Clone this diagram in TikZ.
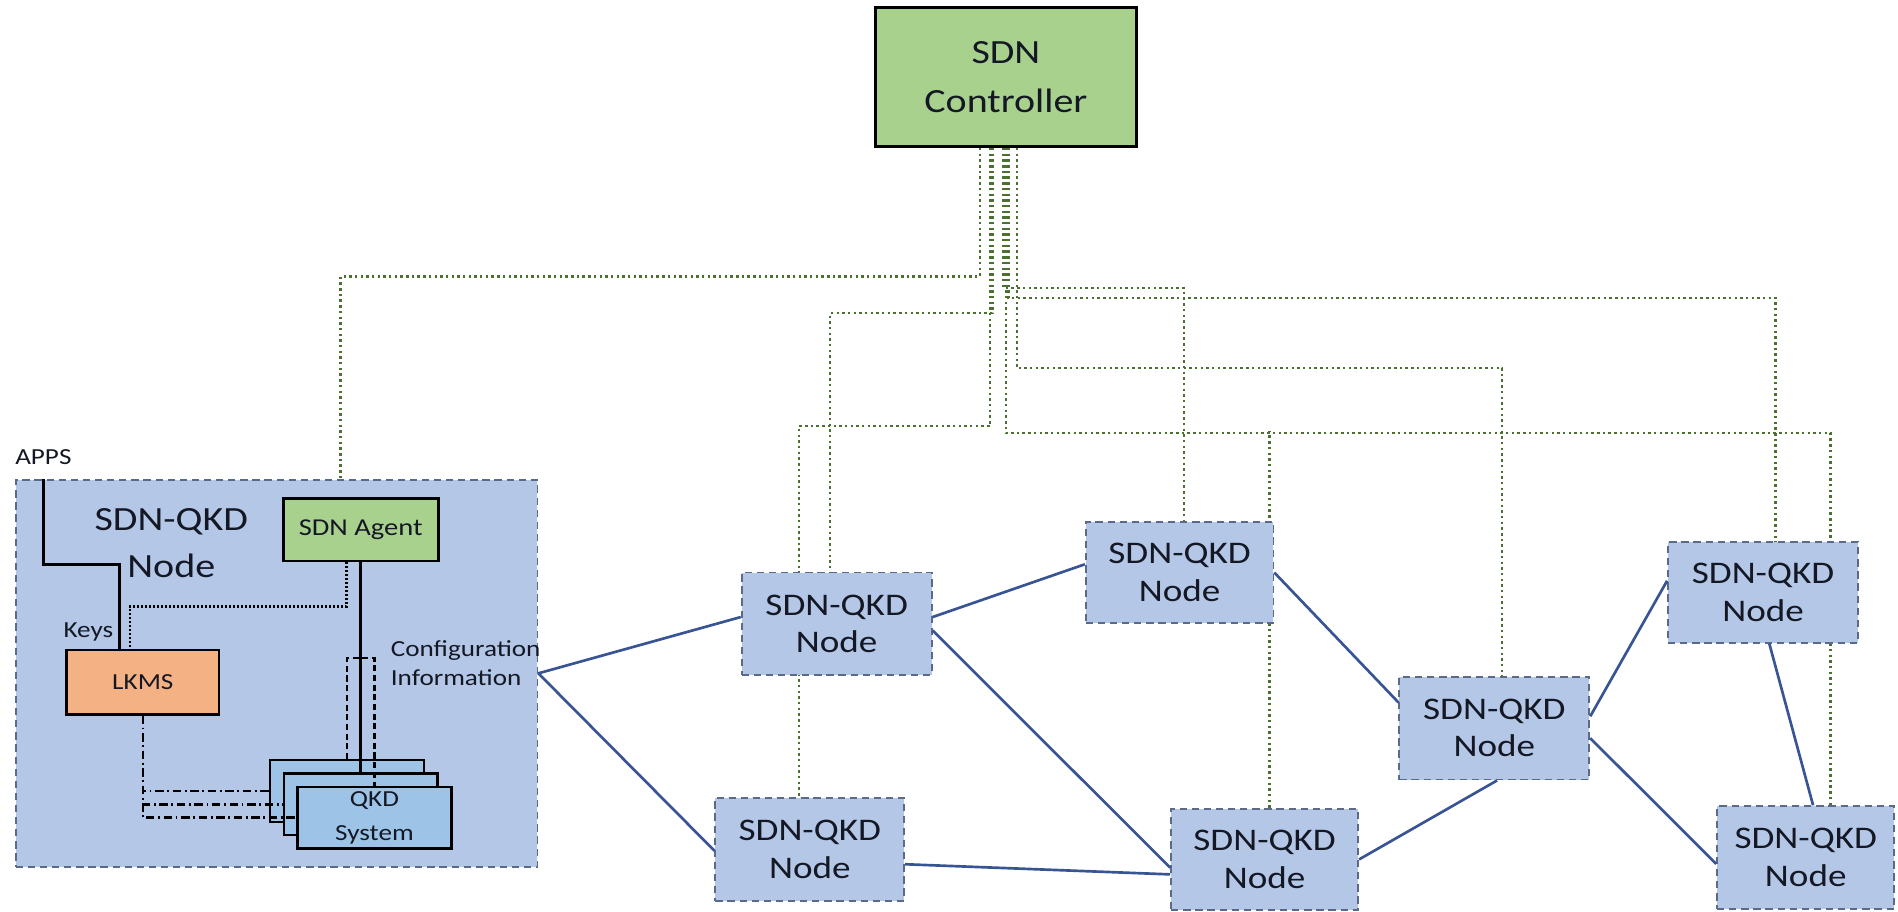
\documentclass[tikz,border=0pt]{standalone}
\usepackage{fontspec}
\setmainfont{Carlito}[FakeStretch=1.18]
\usetikzlibrary{calc}
\definecolor{ctrlgreen}{HTML}{A9D18E}
\definecolor{nodeblue}{HTML}{B4C7E7}
\definecolor{qkdblue}{HTML}{9DC3E6}
\definecolor{lkmsorange}{HTML}{F4B183}
\definecolor{edgegray}{HTML}{5A6A88}
\definecolor{linkblue}{RGB}{56,84,148}
\definecolor{ctlgreen}{RGB}{76,112,48}
\definecolor{inkdark}{RGB}{20,24,36}
\pgfdeclarelayer{back}
\pgfsetlayers{back,main}

\begin{document}
\begin{tikzpicture}[x=1pt,y=-1pt,
  every node/.style={text=inkdark},
  solidbox/.style={draw=black, line width=2.2pt, inner sep=0pt, align=center},
  netnode/.style={draw=edgegray, line width=1.5pt, dash pattern=on 6pt off 4pt,
    fill=nodeblue, minimum width=156pt, minimum height=85pt, inner sep=0pt,
    align=center, font=\fontsize{26}{31}\selectfont},
  qkdbox/.style={draw=black, line width=2pt, fill=qkdblue, inner sep=0pt,
    minimum width=127pt, minimum height=51pt, align=center,
    font=\fontsize{19}{27.8}\selectfont},
  ctlpath/.style={draw=ctlgreen, line width=2.1pt, dash pattern=on 2pt off 2.7pt},
  wire/.style={draw=linkblue, line width=2.2pt},
  keyline/.style={draw=black, line width=2.4pt},
  mgmtdots/.style={draw=black, line width=2pt, dash pattern=on 1.6pt off 1.7pt},
  cfgdash/.style={draw=black, line width=2pt, dash pattern=on 5pt off 3pt},
  keydashdot/.style={draw=black, line width=2pt, dash pattern=on 7pt off 3pt on 1.5pt off 3pt},
  smalltext/.style={inner sep=0pt, font=\fontsize{19}{23.5}\selectfont}
]
\useasboundingbox (0,0) rectangle (1568,753);

% ---------- controller ----------
\node[solidbox, fill=ctrlgreen, minimum width=216pt, minimum height=115.2pt,
  font=\fontsize{28}{40}\selectfont] (ctrl) at (831,63.6) {SDN\\Controller};

% ---------- local SDN-QKD node (detailed) ----------
\node[draw=edgegray, line width=1.5pt, dash pattern=on 6pt off 4pt, fill=nodeblue,
  minimum width=431pt, minimum height=319.5pt, inner sep=0pt] (bignode) at (228.5,556.25) {};
\node[inner sep=0pt, align=center, font=\fontsize{28}{39}\selectfont] (title) at (141.5,448.5) {SDN-QKD\\Node};
\node[smalltext, anchor=base west] (apps) at (12.4,384) {APPS};
\node[smalltext, anchor=base east] (keys) at (93.7,527) {Keys};
\node[smalltext, anchor=west, align=left] (cfg) at (322.7,548) {Configuration\\Information};

\node[solidbox, fill=ctrlgreen, minimum width=128pt, minimum height=51.7pt,
  font=\fontsize{20}{24}\selectfont] (agent) at (298,437.55) {SDN Agent};
\node[solidbox, fill=lkmsorange, minimum width=126pt, minimum height=53pt,
  font=\fontsize{19}{23}\selectfont] (lkms) at (118,563.5) {LKMS};

\node[qkdbox] (qkdback) at (286.6,653.5) {};
\node[qkdbox] (qkdmid) at (297.95,664.5) {};
\node[qkdbox] (qkdfront) at (309.35,675.5) {QKD\\System};

% key delivery to the applications
\draw[keyline] (apps.south |- bignode.north) -- ++(0,70.5) -| ([xshift=-19pt]lkms.north);
% agent to LKMS management
\draw[mgmtdots] ([xshift=-11.6pt]agent.south) -- ++(0,36.6) -| ([xshift=-10.6pt]lkms.north);
% agent to the QKD systems
\draw[keyline, line width=2.2pt] (agent.south) -- (agent.south |- qkdmid.north);
\draw[cfgdash] (qkdback.north) -- ++(0,-83.3) -| (qkdfront.north);
% LKMS to the QKD systems
\draw[keydashdot] (lkms.south) |- (qkdback.west);
\draw[keydashdot] (lkms.south) |- (qkdmid.west);
\draw[keydashdot] (lkms.south) |- (qkdfront.west);

% ---------- network nodes ----------
\node[netnode, minimum width=157pt, minimum height=84.6pt] (n1) at (691.2,515.3) {SDN-QKD\\Node};
\node[netnode, minimum width=155pt, minimum height=84pt] (n2) at (974.5,473) {SDN-QKD\\Node};
\node[netnode, minimum width=157pt] (n3) at (1234.5,601.5) {SDN-QKD\\Node};
\node[netnode, minimum width=157pt, minimum height=83pt] (n4) at (1456.5,489.5) {SDN-QKD\\Node};
\node[netnode] (n5) at (669,701.5) {SDN-QKD\\Node};
\node[netnode, minimum width=154.5pt, minimum height=84pt] (n6) at (1044.75,710) {SDN-QKD\\Node};
\node[netnode, minimum width=146.5pt] (n7) at (1491.75,708.5) {SDN-QKD\\Node};

% ---------- control channels ----------
\begin{pgfonlayer}{back}
\draw[ctlpath] ([xshift=-21.4pt]ctrl.south) -- ++(0,106) -| ([xshift=52.9pt]bignode.north);
\draw[ctlpath] ([xshift=-11pt]ctrl.south) -- ++(0,136.3) -| ([xshift=-5.4pt]n1.north);
\draw[ctlpath] ([xshift=-13pt]ctrl.south) -- ++(0,229.8) -| ([xshift=-9pt]n5.north);
\draw[ctlpath] ([xshift=-2pt]ctrl.south) -- ++(0,115.6) -| ([xshift=3.5pt]n2.north);
\draw[ctlpath] ([xshift=2pt]ctrl.south) -- ++(0,123.8) -| ([xshift=10.5pt]n4.north);
\draw[ctlpath] ([xshift=9pt]ctrl.south) -- ++(0,181.8) -| ([xshift=6.5pt]n3.north);
\draw[ctlpath] ([xshift=0pt]ctrl.south) -- ++(0,235.4) -| ([xshift=20.55pt]n7.north);
\draw[ctlpath] ([xshift=3.85pt]n6.north) -- ++(0,-311.4);
\end{pgfonlayer}

% ---------- quantum links ----------
\draw[wire] (bignode.east) -- (n1.176.3);
\draw[wire] (bignode.east) -- (n5.181.5);
\draw[wire] (n1.4.8) -- (n2.175.4);
\draw[wire] (n1.-4.4) -- (n6.185.2);
\draw[wire] (n5.-9.5) -- (n6.189.6);
\draw[wire] (n6.0.7) -- (n3.-87.3);
\draw[wire] (n2.0.7) -- (n3.165.6);
\draw[wire] (n3.7.2) -- (n4.173.1);
\draw[wire] (n3.-6.9) -- (n7.184.3);
\draw[wire] (n4.-83) -- (n7.82.2);
\end{tikzpicture}
\end{document}
